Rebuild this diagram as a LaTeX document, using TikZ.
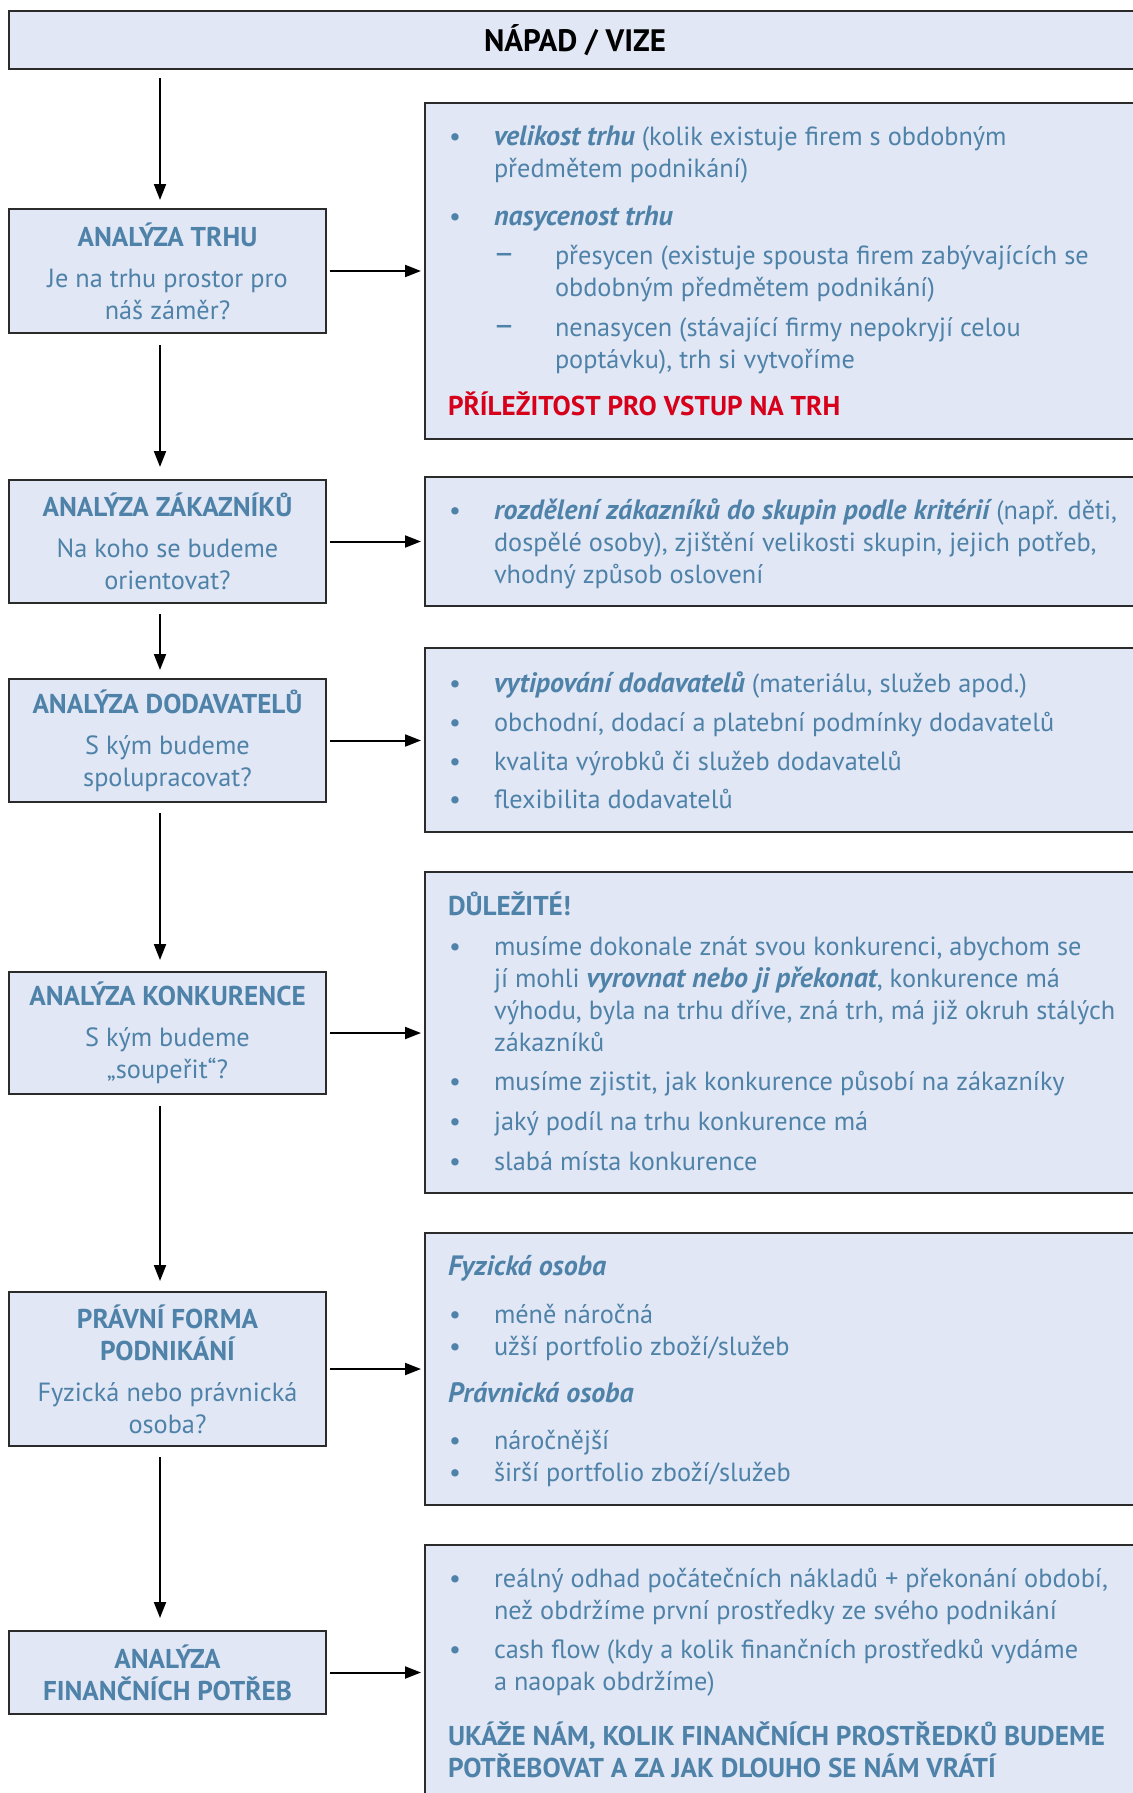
\documentclass[tikz,border=0pt]{standalone}
\usepackage{fontspec}
\setmainfont{PT Sans}
\usetikzlibrary{arrows.meta}
\definecolor{txtblue}{HTML}{4F82A8}
\definecolor{boxfill}{HTML}{E1E7F5}
\definecolor{redtxt}{HTML}{D7001A}
\definecolor{boxline}{HTML}{2B2B2B}
\newcommand\bi[1]{{\fontsize{28}{32}\selectfont\bfseries\itshape #1}}
\newcommand\hd{\fontsize{27.2}{32}\selectfont\bfseries}
\newcommand\bodyline[4]{\node[bodytxt] (#1) at (#2,#3) {#4};}
\newcommand\bulnode[2]{\node[bodytxt,anchor=base] (#1) at (455,#2) {•};}
\newcommand\dashnode[2]{\node[bodytxt,anchor=base] (#1) at (504,#2) {\fontsize{34}{32}\selectfont –};}
\begin{document}
\begin{tikzpicture}[x=1pt,y=-1pt,
  boxbase/.style={draw=boxline, line width=1.5pt, fill=boxfill, inner sep=0pt, outer sep=0pt},
  lbox/.style={boxbase, minimum width=317pt, minimum height=124pt, align=center, text=txtblue,
    font=\fontsize{26.3}{32}\selectfont},
  rbox/.style={boxbase, minimum width=720pt},
  bodytxt/.style={inner sep=0pt, outer sep=0pt, anchor=base west, text=txtblue,
    font=\fontsize{26.3}{32}\selectfont},
  arr/.style={line width=2pt, -{Triangle[length=16pt,width=12pt]}}
]
\fill[white] (0,0) rectangle (1132,1793);
\useasboundingbox (0,0) rectangle (1132,1793);
\coordinate (ax) at (160,0);

% top box
\node[boxbase, minimum width=1132pt, minimum height=58pt, font=\fontsize{31}{32}\selectfont\bfseries]
  (top) at (575,40) {NÁPAD / VIZE};

% left boxes
\node[lbox] (b1) at (167.5,271) {{\hd ANALÝZA TRHU}\\[9pt]Je na trhu prostor pro\\náš záměr?};
\node[lbox, minimum height=123pt] (b2) at (167.5,541.5) {{\hd ANALÝZA ZÁKAZNÍKŮ}\\[9pt]Na koho se budeme\\orientovat?};
\node[lbox, minimum height=123pt] (b3) at (167.5,740.5) {{\hd ANALÝZA DODAVATELŮ}\\[9pt]S kým budeme\\spolupracovat?};
\node[lbox, minimum height=122pt] (b4) at (167.5,1033) {{\hd ANALÝZA KONKURENCE}\\[9pt]S kým budeme\\„soupeřit“?};
\node[lbox, minimum height=154pt] (b5) at (167.5,1369) {{\hd PRÁVNÍ FORMA}\\{\hd PODNIKÁNÍ}\\[9pt]Fyzická nebo právnická\\osoba?};
\node[lbox, minimum height=83pt] (b6) at (167.5,1672.5) {{\hd ANALÝZA}\\{\hd FINANČNÍCH POTŘEB}};

% right boxes
\node[rbox, minimum height=336pt] (r1) at (785,271) {};
\node[rbox, minimum height=129pt] (r2) at (785,541.5) {};
\node[rbox, minimum height=184pt] (r3) at (785,740) {};
\node[rbox, minimum height=321pt] (r4) at (785,1032.5) {};
\node[rbox, minimum height=272pt] (r5) at (785,1369) {};
\node[rbox, minimum height=285pt] (r6) at (785,1687.5) {};

% vertical arrows
\draw[arr, shorten <=9pt, shorten >=9pt] (top.south -| ax) -- (b1.north -| ax);
\draw[arr, shorten <=12pt, shorten >=13pt] (b1.south -| ax) -- (b2.north -| ax);
\draw[arr, shorten <=11pt, shorten >=9pt] (b2.south -| ax) -- (b3.north -| ax);
\draw[arr, shorten <=11pt, shorten >=12pt] (b3.south -| ax) -- (b4.north -| ax);
\draw[arr, shorten <=12pt, shorten >=11pt] (b4.south -| ax) -- (b5.north -| ax);
\draw[arr, shorten <=11pt, shorten >=13pt] (b5.south -| ax) -- (b6.north -| ax);

% horizontal arrows
\foreach \l/\r in {b1/r1,b2/r2,b3/r3,b4/r4,b5/r5,b6/r6}
  \draw[arr, shorten <=4pt, shorten >=4pt] (\l.east) -- (\l.east -| \r.west);

% R1 text
\bulnode{r1p1}{145}
\bodyline{r1t1}{494}{145}{\bi{velikost trhu} (kolik existuje firem s obdobným}
\bodyline{r1t2}{494}{177}{předmětem podnikání)}
\bulnode{r1p2}{225}
\bodyline{r1t3}{494}{225}{\bi{nasycenost trhu}}
\dashnode{r1d1}{264}
\bodyline{r1t4}{555}{264}{přesycen (existuje spousta firem zabývajících se}
\bodyline{r1t5}{555}{296}{obdobným předmětem podnikání)}
\dashnode{r1d2}{336}
\bodyline{r1t6}{555}{336}{nenasycen (stávající firmy nepokryjí celou}
\bodyline{r1t7}{555}{368}{poptávku), trh si vytvoříme}
\node[bodytxt, text=redtxt] (r1red) at (448,415) {\hd PŘÍLEŽITOST PRO VSTUP NA TRH};

% R2 text
\bulnode{r2p1}{519}
\bodyline{r2t1}{494}{519}{\bi{rozdělení zákazníků do skupin podle kritérií} (např. děti,}
\bodyline{r2t2}{494}{551}{dospělé osoby), zjištění velikosti skupin, jejich potřeb,}
\bodyline{r2t3}{494}{583}{vhodný způsob oslovení}

% R3 text
\bulnode{r3p1}{692}
\bodyline{r3t1}{494}{692}{\bi{vytipování dodavatelů} (materiálu, služeb apod.)}
\bulnode{r3p2}{731}
\bodyline{r3t2}{494}{731}{obchodní, dodací a platební podmínky dodavatelů}
\bulnode{r3p3}{770}
\bodyline{r3t3}{494}{770}{kvalita výrobků či služeb dodavatelů}
\bulnode{r3p4}{808}
\bodyline{r3t4}{494}{808}{flexibilita dodavatelů}

% R4 text
\node[bodytxt] (r4h) at (448,915) {\hd DŮLEŽITÉ!};
\bulnode{r4p1}{955}
\bodyline{r4t1}{494}{955}{musíme dokonale znát svou konkurenci, abychom se}
\bodyline{r4t2}{494}{987}{jí mohli \bi{vyrovnat nebo ji překonat}, konkurence má}
\bodyline{r4t3}{494}{1019}{výhodu, byla na trhu dříve, zná trh, má již okruh stálých}
\bodyline{r4t4}{494}{1051}{zákazníků}
\bulnode{r4p2}{1090}
\bodyline{r4t5}{494}{1090}{musíme zjistit, jak konkurence působí na zákazníky}
\bulnode{r4p3}{1130}
\bodyline{r4t6}{494}{1130}{jaký podíl na trhu konkurence má}
\bulnode{r4p4}{1170}
\bodyline{r4t7}{494}{1170}{slabá místa konkurence}

% R5 text
\node[bodytxt] (r5h1) at (448,1275) {\bi{Fyzická osoba}};
\bulnode{r5p1}{1323}
\bodyline{r5t1}{494}{1323}{méně náročná}
\bulnode{r5p2}{1355}
\bodyline{r5t2}{494}{1355}{užší portfolio zboží/služeb}
\node[bodytxt] (r5h2) at (448,1402) {\bi{Právnická osoba}};
\bulnode{r5p3}{1449}
\bodyline{r5t3}{494}{1449}{náročnější}
\bulnode{r5p4}{1481}
\bodyline{r5t4}{494}{1481}{širší portfolio zboží/služeb}

% R6 text
\bulnode{r6p1}{1587}
\bodyline{r6t1}{494}{1587}{reálný odhad počátečních nákladů + překonání období,}
\bodyline{r6t2}{494}{1619}{než obdržíme první prostředky ze svého podnikání}
\bulnode{r6p2}{1658}
\bodyline{r6t3}{494}{1658}{cash flow (kdy a kolik finančních prostředků vydáme}
\bodyline{r6t4}{494}{1690}{a naopak obdržíme)}
\node[bodytxt] (r6h1) at (448,1745) {\hd UKÁŽE NÁM, KOLIK FINANČNÍCH PROSTŘEDKŮ BUDEME};
\node[bodytxt] (r6h2) at (448,1777) {\hd POTŘEBOVAT A ZA JAK DLOUHO SE NÁM VRÁTÍ};
\end{tikzpicture}
\end{document}
